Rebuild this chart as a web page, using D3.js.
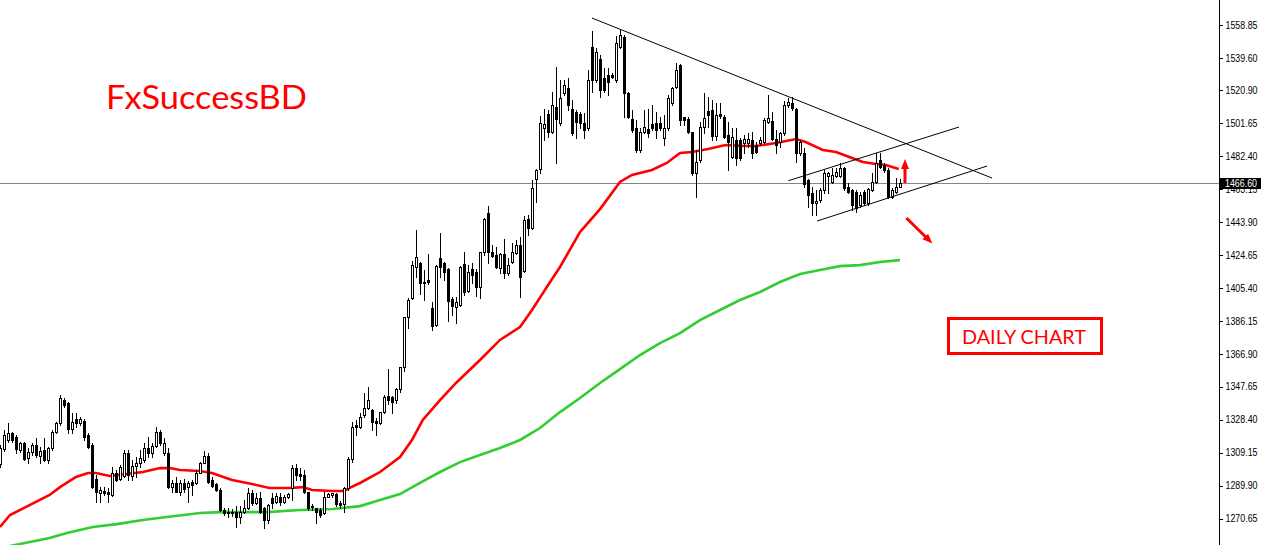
<!DOCTYPE html>
<html><head><meta charset="utf-8">
<script src="https://cdn.jsdelivr.net/npm/d3@7"></script>
<style>body{margin:0;background:#fff;overflow:hidden}svg{display:block}</style>
</head><body>
<svg id="chart" width="1261" height="545"></svg>
<script>
// ---- data (daily candles, oldest first) ----
const opens=[1302.4,1311.3,1316.6,1320.5,1318.5,1310.7,1314.6,1305.9,1309.4,1313.7,
1307.2,1310.7,1304.9,1311.7,1321.4,1326.3,1339.9,1338.0,1323.0,1328.8,
1326.7,1327.9,1319.5,1313.7,1293.8,1285.4,1286.8,1286.0,1284.5,1297.5,
1293.8,1295.7,1309.2,1295.6,1301.4,1302.9,1304.9,1312.1,1308.8,1313.1,
1321.4,1309.2,1308.8,1289.3,1291.7,1286.4,1291.7,1289.3,1292.2,1291.3,
1297.5,1303.3,1307.2,1293.2,1290.7,1287.4,1275.7,1274.7,1274.7,1274.7,
1271.4,1274.7,1276.7,1285.4,1279.6,1282.9,1277.1,1269.9,1282.5,1280.6,
1283.5,1280.6,1283.5,1288.4,1300.0,1296.5,1296.1,1286.4,1278.2,1276.7,
1275.7,1273.8,1283.5,1284.5,1285.0,1280.0,1279.2,1288.4,1305.3,1325.3,
1324.4,1331.2,1335.1,1334.1,1327.7,1326.3,1333.1,1342.3,1341.5,1339.9,
1346.2,1359.0,1388.2,1399.3,1417.8,1419.7,1409.0,1410.0,1393.8,1383.7,
1422.6,1419.7,1416.4,1398.9,1394.4,1395.4,1419.3,1403.8,1416.4,1414.9,
1406.1,1426.2,1448.9,1426.5,1424.6,1416.8,1425.2,1414.3,1420.3,1425.6,
1430.4,1415.4,1445.6,1440.1,1468.7,1474.6,1498.6,1506.7,1496.2,1511.0,
1501.5,1519.4,1521.9,1509.6,1508.3,1506.9,1501.9,1498.6,1545.8,1526.8,
1538.8,1527.7,1529.7,1529.7,1526.8,1546.2,1552.1,1519.0,1503.8,1498.6,
1485.9,1496.6,1498.0,1501.1,1501.5,1501.5,1492.7,1498.6,1513.2,1522.8,
1535.5,1504.9,1503.8,1496.6,1472.6,1480.0,1499.5,1508.8,1509.0,1494.0,
1506.9,1505.3,1494.6,1482.0,1491.7,1491.7,1489.8,1489.8,1491.7,1488.8,
1489.8,1490.7,1502.4,1502.8,1492.1,1490.7,1495.6,1512.1,1513.5,1509.6,
1483.9,1484.0,1468.3,1460.6,1454.7,1456.7,1462.5,1470.7,1467.4,1470.7,
1470.7,1475.2,1464.5,1462.5,1461.5,1453.8,1461.5,1454.7,1462.5,1467.4,
1480.0,1477.1,1474.2,1458.6,1461.5,1464.5];
const highs=[1313.7,1322.4,1326.3,1321.4,1319.5,1315.6,1315.6,1311.7,1314.6,1317.5,
1312.7,1317.5,1312.7,1322.4,1327.3,1342.8,1340.9,1339.0,1332.1,1332.1,
1330.2,1328.8,1320.5,1314.6,1296.1,1289.3,1289.3,1288.4,1301.0,1299.1,
1302.0,1310.7,1310.7,1304.9,1306.8,1310.7,1314.6,1318.5,1314.6,1324.0,
1322.4,1317.5,1312.1,1293.2,1295.2,1293.2,1294.0,1292.6,1293.2,1299.1,
1303.9,1310.2,1308.8,1295.2,1291.3,1288.4,1276.7,1276.7,1276.1,1278.0,
1278.0,1281.5,1288.4,1287.4,1285.8,1286.4,1277.6,1279.2,1285.4,1285.4,
1285.4,1284.5,1285.4,1302.0,1302.4,1300.0,1299.1,1286.4,1279.0,1277.1,
1276.7,1286.4,1285.8,1285.8,1285.8,1281.2,1289.3,1306.8,1327.3,1328.3,
1332.2,1344.2,1347.7,1334.5,1329.2,1333.1,1342.9,1357.8,1342.3,1346.8,
1359.4,1388.6,1399.3,1421.3,1439.2,1420.7,1415.8,1425.0,1397.3,1418.8,
1437.2,1420.7,1416.8,1400.3,1400.3,1418.2,1426.5,1418.8,1419.7,1416.2,
1426.5,1446.0,1453.2,1430.4,1429.5,1425.6,1433.7,1422.6,1431.4,1433.3,
1434.9,1447.4,1447.9,1468.3,1475.0,1506.0,1510.0,1509.2,1520.0,1534.5,
1526.8,1526.8,1527.7,1515.1,1509.3,1508.0,1507.3,1532.6,1555.6,1545.3,
1541.4,1533.6,1533.6,1530.7,1552.7,1556.4,1553.0,1520.0,1509.3,1503.4,
1498.6,1509.3,1509.6,1512.2,1508.3,1505.4,1506.3,1518.0,1522.9,1536.5,
1536.1,1505.3,1504.9,1496.6,1485.9,1502.4,1519.3,1517.0,1515.0,1513.1,
1513.1,1506.3,1502.4,1498.5,1498.5,1492.7,1494.6,1495.6,1496.6,1490.7,
1493.6,1504.3,1518.0,1508.2,1497.5,1496.6,1514.7,1516.0,1516.6,1510.2,
1492.0,1487.0,1468.7,1464.5,1462.5,1463.5,1474.2,1473.2,1475.2,1475.2,
1478.1,1476.1,1466.4,1462.9,1462.5,1461.5,1462.5,1463.5,1472.2,1483.9,
1484.3,1478.1,1475.2,1463.5,1469.3,1468.7];
const lows=[1300.6,1310.3,1315.6,1315.6,1308.8,1309.8,1304.9,1302.9,1307.8,1306.8,
1302.9,1304.3,1302.9,1310.7,1320.5,1325.3,1336.0,1320.5,1320.5,1324.4,
1325.3,1316.6,1312.1,1288.5,1280.6,1280.6,1284.5,1280.2,1284.1,1292.6,
1293.2,1295.2,1293.2,1293.2,1295.2,1301.0,1303.9,1306.8,1306.8,1312.7,
1313.7,1307.8,1288.5,1286.0,1286.0,1284.5,1286.4,1280.6,1284.5,1290.7,
1297.1,1302.9,1291.3,1288.9,1286.8,1275.3,1272.8,1271.8,1272.2,1265.6,
1267.9,1273.8,1276.1,1278.6,1279.2,1273.8,1265.4,1267.9,1276.7,1279.6,
1278.6,1280.0,1282.5,1281.5,1293.2,1293.2,1285.8,1275.7,1275.7,1268.3,
1271.8,1273.4,1283.1,1283.5,1278.0,1276.7,1274.7,1287.4,1303.9,1319.5,
1323.4,1330.2,1334.5,1322.4,1319.5,1325.9,1332.5,1337.6,1332.5,1338.0,
1344.8,1357.1,1381.8,1398.7,1412.0,1401.8,1398.3,1407.7,1380.8,1383.1,
1412.0,1410.0,1386.3,1389.6,1385.1,1394.8,1401.2,1403.2,1408.0,1400.7,
1399.7,1424.6,1419.7,1423.6,1416.8,1413.9,1411.0,1412.9,1419.7,1425.2,
1399.9,1414.9,1436.2,1439.7,1455.7,1472.2,1492.0,1493.6,1495.6,1478.3,
1500.5,1518.0,1509.3,1494.7,1492.7,1499.0,1492.7,1497.6,1520.0,1525.8,
1517.0,1520.0,1518.0,1527.7,1525.8,1545.3,1505.4,1504.4,1496.6,1484.9,
1484.9,1495.6,1493.7,1497.6,1492.7,1497.6,1488.8,1497.6,1512.2,1521.9,
1500.5,1500.5,1495.6,1471.3,1458.6,1479.0,1495.6,1499.5,1492.0,1492.0,
1504.3,1492.7,1474.2,1481.0,1477.1,1480.0,1483.9,1487.8,1481.0,1483.9,
1488.8,1489.8,1501.4,1491.7,1483.9,1487.8,1494.6,1511.2,1509.2,1479.1,
1482.9,1464.0,1452.8,1447.9,1447.9,1455.7,1460.6,1460.6,1466.4,1469.9,
1469.9,1462.5,1460.6,1450.8,1449.9,1452.8,1453.8,1453.8,1462.1,1466.8,
1475.2,1473.2,1457.6,1457.6,1460.6,1464.1];
const closes=[1311.7,1319.5,1320.5,1316.6,1311.3,1314.6,1305.5,1309.8,1313.7,1307.8,
1310.2,1304.9,1311.7,1321.4,1326.3,1340.9,1337.0,1323.0,1327.3,1326.7,
1328.6,1318.5,1312.7,1289.3,1286.0,1287.4,1285.4,1285.0,1297.5,1293.2,
1300.6,1309.2,1296.1,1301.4,1303.3,1305.9,1311.7,1308.8,1313.1,1321.4,
1314.6,1315.0,1289.3,1291.7,1286.4,1291.7,1287.8,1291.7,1290.3,1297.5,
1303.3,1307.2,1291.9,1289.7,1287.4,1275.7,1273.8,1273.8,1274.2,1271.8,
1274.7,1276.7,1285.4,1279.6,1282.5,1274.7,1269.9,1278.6,1279.6,1283.9,
1280.6,1283.1,1284.9,1300.0,1296.1,1295.6,1286.4,1276.7,1277.3,1274.7,
1272.8,1283.5,1284.9,1285.4,1279.2,1278.6,1288.4,1305.3,1324.4,1324.4,
1329.8,1335.1,1339.9,1327.3,1326.3,1332.7,1341.5,1339.9,1339.0,1346.2,
1359.0,1388.2,1398.3,1418.6,1423.2,1408.4,1408.0,1409.0,1383.3,1418.2,
1417.8,1414.9,1397.9,1395.0,1397.3,1417.8,1403.2,1414.9,1412.9,1405.7,
1426.2,1445.6,1426.5,1424.2,1417.4,1425.0,1413.9,1418.8,1426.2,1430.4,
1412.0,1445.0,1440.2,1463.9,1474.2,1501.6,1501.0,1496.6,1512.0,1504.0,
1516.1,1523.9,1512.2,1495.6,1502.4,1501.9,1497.6,1526.8,1526.8,1542.9,
1520.9,1520.9,1525.8,1528.7,1548.6,1553.0,1519.0,1505.4,1497.6,1485.9,
1496.6,1499.5,1495.6,1498.6,1497.6,1498.6,1498.6,1516.1,1521.9,1532.6,
1503.4,1503.4,1496.6,1472.2,1479.0,1499.5,1504.3,1506.3,1494.0,1506.3,
1505.7,1493.6,1490.7,1493.3,1481.0,1481.0,1492.1,1492.1,1483.9,1484.9,
1491.7,1503.4,1504.3,1492.1,1488.8,1496.0,1512.1,1514.1,1510.2,1483.9,
1490.7,1466.0,1459.6,1454.7,1456.3,1462.5,1472.2,1472.2,1471.3,1473.2,
1475.2,1463.5,1461.5,1453.8,1451.8,1459.6,1454.7,1462.9,1467.4,1478.1,
1476.1,1474.2,1458.6,1462.5,1464.5,1466.6];

// moving averages (candle index, price)
const redMaIdx=[0,2.5,7.4,12.4,15,19,22,24,27.4,31.7,35.7,40,42.4,45,50,53,58,63,67.4,72.4,75.7,78,83,86,87.4,90,95,100,103,105.7,110,114,120,125,130,133,136.7,140,145,150,155,158,163,166.7,170,173,177,181.4,185.7,189,194,199,201.4,205.7,209,213,215.7,219,221.4,224.7];
const redMaVal=[1265.8,1272.8,1278.6,1284.5,1289.1,1295.0,1297.3,1297.3,1295.6,1296.7,1297.9,1300.2,1300.2,1299.1,1298.5,1297.3,1293.2,1290.9,1288.6,1288.6,1289.1,1287.4,1286.8,1286.8,1288.6,1291.5,1297.9,1306.6,1316.6,1328.3,1339.9,1349.9,1363.3,1375.0,1382.5,1392.5,1405.9,1417.6,1438.0,1451.4,1467.2,1471.3,1474.2,1478.3,1484.1,1484.7,1486.5,1488.8,1488.2,1488.2,1490.0,1492.3,1490.5,1485.9,1484.7,1481.2,1478.9,1477.7,1477.1,1474.8];
const greenMaIdx=[0,5,12.4,16.7,23.2,29.2,35.7,41.7,50,55,66.7,75,83.2,90,95,100,105,110,115,120,125,130,135,140,145,150,155,160,165,170,175,180,185,190,195,200,205,210,215,220,225];
const greenMaVal=[1253.5,1255.9,1259.4,1262.3,1265.8,1267.5,1269.9,1271.6,1274.0,1274.5,1274.5,1275.7,1276.3,1278.0,1281.5,1285.0,1291.5,1297.9,1303.7,1307.8,1311.9,1316.6,1323.6,1332.9,1341.1,1349.9,1358.0,1366.2,1373.2,1379.0,1386.6,1392.5,1398.3,1403.0,1408.8,1413.5,1415.8,1418.1,1418.7,1420.5,1421.6];

const priceTicks=[1558.85,1539.60,1520.90,1501.65,1482.40,1463.15,1443.90,1424.65,1405.40,1386.15,1366.90,1347.65,1328.40,1309.15,1289.90,1270.65];
const lastPrice=1466.60;

// drawn trend lines: [index1, price1, index2, price2]
const trendIdx1=[148,197.1,204.25];
const trendP1=[1562.9,1467.95,1444.4];
const trendIdx2=[248,239.75,246.75];
const trendP2=[1469.5,1499.3,1476.5];
// arrows: [index, price] start -> end
const arrowFromIdx=[226.25,226.6], arrowFromP=[1466.6,1446.2];
const arrowToIdx=[226.25,233.1], arrowToP=[1480.6,1431.3];

const titleText="FxSuccessBD";
const badgeText="DAILY CHART";

// ---- layout ----
const W=1261,H=545, axisX=1219;
const svg=d3.select("#chart");
const x=d3.scaleLinear().domain([0,225]).range([0,900]);
const y=d3.scaleLinear().domain([1270.65,1558.85]).range([518.7,25]);

svg.append("defs").append("clipPath").attr("id","plot")
  .append("rect").attr("x",0).attr("y",0).attr("width",axisX).attr("height",H);
const plot=svg.append("g").attr("clip-path","url(#plot)");

// current price line
plot.append("line").attr("x1",0).attr("x2",axisX)
  .attr("y1",Math.round(y(lastPrice))+0.5).attr("y2",Math.round(y(lastPrice))+0.5)
  .attr("stroke","#7d8794").attr("stroke-width",1).attr("shape-rendering","crispEdges");

// moving averages
const line=d3.line().x(d=>x(d[0])).y(d=>y(d[1]));
plot.append("path").datum(greenMaIdx.map((k,i)=>[k,greenMaVal[i]]))
  .attr("d",line).attr("fill","none").attr("stroke","#32cd32").attr("stroke-width",2.6);
plot.append("path").datum(redMaIdx.map((k,i)=>[k,redMaVal[i]]))
  .attr("d",line).attr("fill","none").attr("stroke","#ff0000").attr("stroke-width",2.6);

// candles
const idx=d3.range(opens.length);
const cg=plot.append("g").attr("shape-rendering","crispEdges");
const cand=cg.selectAll("g").data(idx).join("g");
cand.append("line")
  .attr("x1",k=>Math.round(x(k))+0.5).attr("x2",k=>Math.round(x(k))+0.5)
  .attr("y1",k=>Math.round(y(highs[k]))).attr("y2",k=>Math.round(y(lows[k]))+1)
  .attr("stroke","#000").attr("stroke-width",1);
cand.append("rect")
  .attr("x",k=>Math.round(x(k))-0.5)
  .attr("y",k=>Math.round(y(Math.max(opens[k],closes[k])))+0.5)
  .attr("width",2)
  .attr("height",k=>Math.max(0,Math.round(y(Math.min(opens[k],closes[k])))-Math.round(y(Math.max(opens[k],closes[k])))))
  .attr("fill",k=>closes[k]>=opens[k]?"#fff":"#000")
  .attr("stroke","#000").attr("stroke-width",1);

// trend lines
plot.selectAll("line.trend").data(trendIdx1).join("line").attr("class","trend")
  .attr("x1",(d,i)=>x(trendIdx1[i])).attr("y1",(d,i)=>y(trendP1[i]))
  .attr("x2",(d,i)=>x(trendIdx2[i])).attr("y2",(d,i)=>y(trendP2[i]))
  .attr("stroke","#000").attr("stroke-width",1);

// arrows
function arrowPts(x1,y1,x2,y2,sw,hl,hw){
  const dx=x2-x1, dy=y2-y1, L=Math.hypot(dx,dy), ux=dx/L, uy=dy/L, px=-uy, py=ux;
  const bx=x2-ux*hl, by=y2-uy*hl;
  return [[x1+px*sw/2,y1+py*sw/2],[bx+px*sw/2,by+py*sw/2],[bx+px*hw/2,by+py*hw/2],[x2,y2],
          [bx-px*hw/2,by-py*hw/2],[bx-px*sw/2,by-py*sw/2],[x1-px*sw/2,y1-py*sw/2]];
}
arrowFromIdx.forEach((k,i)=>{
  const p=arrowPts(x(k),y(arrowFromP[i]),x(arrowToIdx[i]),y(arrowToP[i]),3,10,8);
  plot.append("polygon").attr("points",p.map(q=>q.join(",")).join(" ")).attr("fill","#ff0000");
});

// title text
svg.append("text").attr("x",106).attr("y",109).text(titleText)
  .attr("font-family","Lato, 'Open Sans', sans-serif").attr("font-size",33.5)
  .attr("fill","#ff0000").attr("textLength",201).attr("lengthAdjust","spacingAndGlyphs");

// DAILY CHART badge
svg.append("rect").attr("x",948.5).attr("y",318.5).attr("width",153).attr("height",35)
  .attr("fill","#fff").attr("stroke","#ff0000").attr("stroke-width",3);
svg.append("text").attr("x",962).attr("y",343.5).text(badgeText)
  .attr("font-family","Lato, 'Open Sans', sans-serif").attr("font-size",20)
  .attr("fill","#ff0000").attr("textLength",124).attr("lengthAdjust","spacingAndGlyphs");

// price axis
const ax=svg.append("g").attr("transform",`translate(${axisX+0.5},0)`)
  .call(d3.axisRight(y).tickValues(priceTicks).tickFormat(d3.format(".2f")).tickSize(3).tickPadding(3).tickSizeOuter(0));
ax.select(".domain").remove();
ax.selectAll(".tick line").attr("stroke","#000").attr("shape-rendering","crispEdges");
ax.selectAll(".tick text").attr("font-family","'Liberation Sans', Arial, sans-serif")
  .attr("font-size",10).attr("fill","#000").attr("textLength",32).attr("lengthAdjust","spacingAndGlyphs");
svg.append("line").attr("x1",axisX+0.5).attr("x2",axisX+0.5).attr("y1",0).attr("y2",H)
  .attr("stroke","#000").attr("stroke-width",1).attr("shape-rendering","crispEdges");

// current price tag
const ly=Math.round(y(lastPrice));
svg.append("rect").attr("x",axisX+1).attr("y",ly-5).attr("width",W-axisX-1).attr("height",11).attr("fill","#000");
svg.append("text").attr("x",axisX+6).attr("y",ly+0.5).attr("dy","0.32em").text(d3.format(".2f")(lastPrice))
  .attr("font-family","'Liberation Sans', Arial, sans-serif").attr("font-size",10).attr("fill","#fff")
  .attr("textLength",32).attr("lengthAdjust","spacingAndGlyphs");
</script>
</body></html>
